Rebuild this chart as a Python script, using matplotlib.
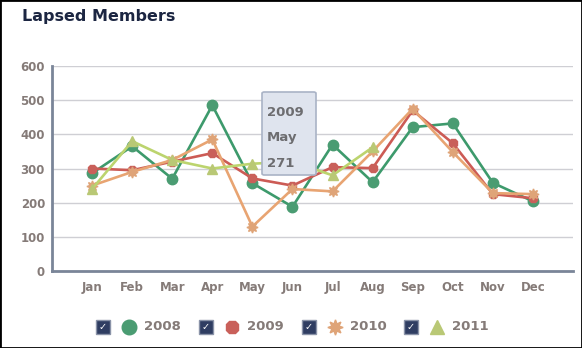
import numpy as np
import matplotlib
matplotlib.use('Agg')
import matplotlib.pyplot as plt
from matplotlib.patches import FancyBboxPatch, Rectangle
from matplotlib.lines import Line2D

months = ['Jan', 'Feb', 'Mar', 'Apr', 'May', 'Jun', 'Jul', 'Aug', 'Sep', 'Oct', 'Nov', 'Dec']
y2008 = [286, 365, 270, 485, 257, 188, 370, 260, 421, 432, 258, 204]
y2009 = [300, 295, 320, 345, 271, 250, 304, 301, 470, 374, 225, 213]
y2010 = [250, 290, 325, 385, 130, 240, 233, 350, 475, 348, 228, 225]
y2011 = [240, 380, 325, 300, 314, 320, 280, 362, np.nan, np.nan, np.nan, np.nan]
years = ['2008', '2009', '2010', '2011']

colors = ['#3d9a6c', '#cc5b55', '#e8a472', '#bcd46e']
faces = ['#4a9c72', '#c9605a', '#dfa478', '#b9c875']
markers = ['o', '8', (8, 1, 0), '^']
msizes = [7.5, 7, 8, 7.5]

fig = plt.figure(figsize=(5.82, 3.48), dpi=100)
ax = fig.add_axes([52/582, 1-271/348, (573-52)/582, (271-66)/348])

x = np.arange(len(months))
for ys, c, fc, m, ms in zip([y2008, y2009, y2010, y2011], colors, faces, markers, msizes):
    ax.plot(x, ys, color=c, lw=1.9, marker=m, ms=ms, mfc=fc, mec=fc, zorder=3)

ax.set_xlim(-1, 12)
ax.set_ylim(0, 600)
ax.set_xticks(x)
ax.set_xticklabels(months)
ax.set_yticks(range(0, 601, 100))
ax.tick_params(axis='x', length=0, labelsize=8.5, labelcolor='#857b78', pad=7)
ax.tick_params(axis='y', length=0, labelsize=8.5, labelcolor='#857b78', pad=5)
for lab in ax.get_xticklabels() + ax.get_yticklabels():
    lab.set_fontweight('bold')
ax.grid(axis='y', color='#cfcfd4', lw=1)
ax.set_axisbelow(True)
for s in ['top', 'right']:
    ax.spines[s].set_visible(False)
for s in ['left', 'bottom']:
    ax.spines[s].set_color('#7a8598')
    ax.spines[s].set_linewidth(2)

fig.text(22/582, 1-17/348, 'Lapsed Members', fontsize=11.5, fontweight='bold',
         color='#1c2642', va='center', ha='left')

# tooltip
tip = FancyBboxPatch((262/582, 1-175/348), 54/582, 83/348,
                     boxstyle='round,pad=0,rounding_size=0.004', transform=fig.transFigure,
                     fc='#dfe4ee', ec='#a9b3c6', lw=1.2, zorder=5)
fig.patches.append(tip)
for i, t in enumerate(['2009', 'May', '271']):
    fig.text(267/582, 1-(112 + 25.5*i)/348, t, fontsize=9.5, fontweight='bold',
             color='#6d6d70', va='center', ha='left', zorder=6)

# legend
lx = [103, 206, 309, 411]
for i in range(4):
    cx = lx[i]
    fig.patches.append(Rectangle(((cx-7)/582, 1-334/348), 14/582, 14/348,
                                 transform=fig.transFigure, fc='#2f3d62', ec='#8a93a8', lw=1))
    fig.text(cx/582, 1-327/348, '\u2713', fontsize=7, color='white', ha='center', va='center')
    fig.lines.append(Line2D([(cx+26)/582], [1-327/348], transform=fig.transFigure,
                            marker=markers[i], ms=msizes[i]+3, mfc=faces[i], mec=faces[i], ls=''))
    fig.text((cx+41)/582, 1-327/348, years[i], fontsize=9.5, fontweight='bold',
             color='#857b78', ha='left', va='center')

# outer border
fig.patches.append(Rectangle((0, 0), 1, 1, transform=fig.transFigure, fill=False,
                             ec='black', lw=2))

fig.savefig('out.png', dpi=100)
